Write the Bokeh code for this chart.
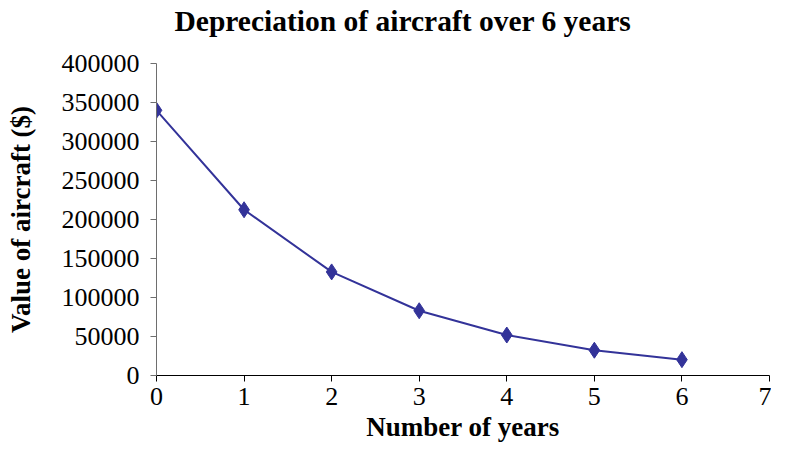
from bokeh.plotting import figure
from bokeh.models import (Range1d, FixedTicker, BasicTickFormatter, ColumnDataSource,
                          LinearAxis, Title)
from bokeh.embed import file_html
from bokeh.resources import INLINE

# Data
years = [0, 1, 2, 3, 4, 5, 6]
values = [340000, 212500, 132800, 83000, 51900, 32400, 20300]
x_ticks = [0, 1, 2, 3, 4, 5, 6, 7]
y_ticks = [0, 50000, 100000, 150000, 200000, 250000, 300000, 350000, 400000]

title_text = "Depreciation of aircraft over 6 years"
x_label = "Number of years"
y_label = "Value of aircraft ($)"

SERIF = "Liberation Serif"
NAVY = "#333399"

src = ColumnDataSource(dict(x=years, y=values))

p = figure(width=771, height=450, output_backend="svg", toolbar_location=None,
           title_location=None,
           x_range=Range1d(0, 7), y_range=Range1d(0, 400000),
           min_border_left=156, min_border_right=2, min_border_top=63,
           min_border_bottom=75)

xa = p.below[0]
ya = p.left[0]

# invisible spacer between the frame and the title (white tick on white)
spacer = LinearAxis(ticker=FixedTicker(ticks=[7]), axis_line_color=None,
                    major_tick_line_color="white", minor_tick_line_color=None,
                    major_tick_in=0, major_tick_out=27, major_label_standoff=0,
                    major_label_overrides={7: ""}, major_label_text_font_size="1px",
                    major_label_text_color=None)
p.add_layout(spacer, "above")

title = Title(text=title_text, text_font=SERIF, text_font_size="29.5px",
              text_font_style="bold", text_color="black", align="left",
              vertical_align="bottom", offset=18, standoff=0)
p.add_layout(title, "above")

p.line("x", "y", source=src, line_color=NAVY, line_width=2)
p.scatter("x", "y", source=src, marker="diamond", size=16,
          fill_color=NAVY, line_color=NAVY)

p.xgrid.visible = False
p.ygrid.visible = False
p.outline_line_color = None
p.background_fill_color = "white"
p.border_fill_color = "white"

xa.ticker = FixedTicker(ticks=x_ticks)
ya.ticker = FixedTicker(ticks=y_ticks)
ya.formatter = BasicTickFormatter(use_scientific=False)

for ax in (xa, ya):
    ax.major_label_text_font = SERIF
    ax.major_label_text_font_size = "26px"
    ax.major_label_text_color = "black"
    ax.axis_label_text_font = SERIF
    ax.axis_label_text_font_style = "bold"
    ax.axis_label_text_color = "black"
    ax.minor_tick_line_color = None
    ax.major_tick_in = 0

xa.axis_label = x_label
ya.axis_label = y_label
xa.axis_label_text_font_size = "27px"
ya.axis_label_text_font_size = "27px"
xa.axis_line_color = "black"
xa.major_tick_line_color = "black"
xa.major_tick_out = 6
xa.major_label_standoff = 6
xa.axis_label_standoff = 4
ya.axis_line_color = "#6e6e6e"
ya.major_tick_line_color = "#6e6e6e"
ya.major_tick_out = 6
ya.major_label_standoff = 11
ya.axis_label_standoff = 23

open("out.html", "w").write(file_html(p, INLINE))
